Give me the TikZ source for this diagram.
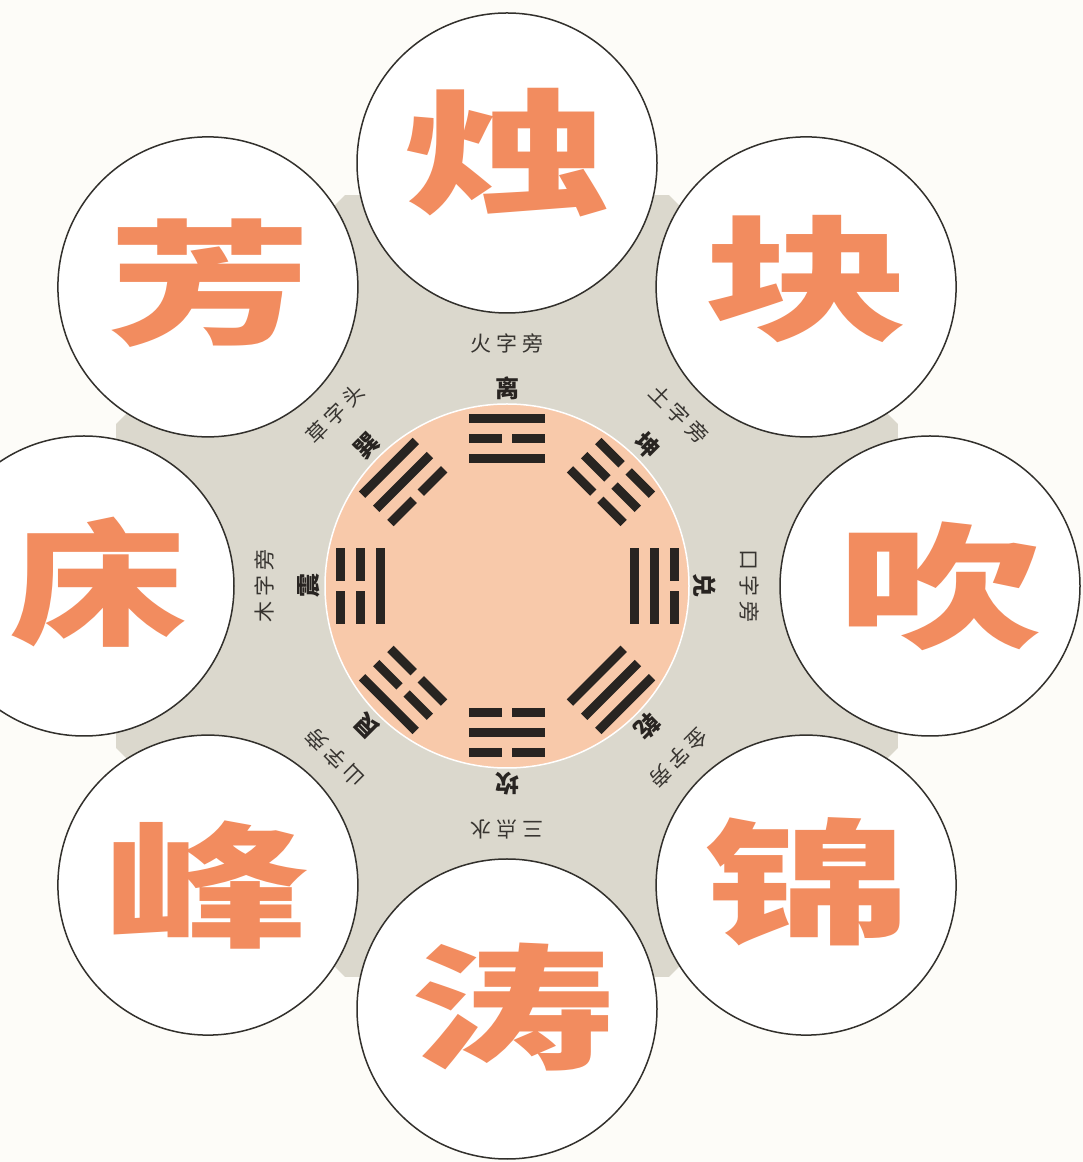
\documentclass[tikz,border=0pt]{standalone}
\usepackage{fontspec}
\newfontfamily\cjk{Noto Sans CJK SC}
\usetikzlibrary{calc}
\definecolor{bgc}{RGB}{253,252,248}
\definecolor{greyc}{RGB}{219,216,205}
\definecolor{peach}{RGB}{248,201,170}
\definecolor{orangec}{RGB}{242,140,95}
\definecolor{inkc}{RGB}{40,36,33}
\definecolor{edgec}{RGB}{50,48,44}
\definecolor{labc}{RGB}{55,52,48}
\tikzset{
  bigcircle/.style={circle, draw=edgec, line width=1.5pt, fill=white, minimum size=300pt, inner sep=0pt},
  glyph/.style={inner sep=0pt, text=orangec, font=\cjk\bfseries\fontsize{205}{205}\selectfont},
  trilabel/.style={inner sep=0pt, text=inkc, font=\cjk\bfseries\fontsize{24}{24}\selectfont},
  radlabel/.style={inner sep=0pt, text=labc, font=\cjk\fontsize{21}{21}\selectfont},
  corec/.style={circle, fill=peach, draw=white, line width=1.5pt, minimum size=364pt, inner sep=0pt},
  bar/.style={fill=inkc}
}
\begin{document}
\begin{tikzpicture}[x=1pt,y=1pt]
\useasboundingbox (0,0) rectangle (1083,1162);
\clip (0,0) rectangle (1083,1162);
\fill[bgc] (0,0) rectangle (1083,1162);
\coordinate (C) at (507,576);
% grey octagon
\fill[greyc] ($(C)+(22.5:423.2)$) \foreach \a in {67.5,112.5,...,337.5}{ -- ($(C)+(\a:423.2)$)} -- cycle;
% core circle
\node[corec] (core) at (C) {};
% outer circles with characters
\foreach \a/\ch/\n/\dx/\dy/\sx in {90/烛/cN/0/10/1, 45/块/cNE/1/8/1, 0/吹/cE/10/0/1, -45/锦/cSE/1/3/1, -90/涛/cS/5/2/1, -135/峰/cSW/-1/0/1, 180/床/cW/15/4/0.86, 135/芳/cNW/2/4/1}{
  \node[bigcircle] (\n) at ($(C)+(\a:423)$) {};
  \node[glyph] (g\n) at ($(\n)+(\dx,\dy)$) {\scalebox{\sx}[0.66]{\ch}};
}
% trigrams and labels
\foreach \a/\nm/\lab/\b/\m/\t/\id in {
  90/离/火\kern5pt字\kern5pt旁/1/0/1/N,
  45/坤/土\kern5pt字\kern5pt旁/0/0/0/NE,
  0/兑/口\kern5pt字\kern5pt旁/1/1/0/E,
  -45/乾/金\kern5pt字\kern5pt旁/1/1/1/SE,
  -90/坎/三\kern5pt点\kern5pt水/0/1/0/S,
  -135/艮/山\kern5pt字\kern5pt旁/0/0/1/SW,
  180/震/木\kern5pt字\kern5pt旁/1/0/0/W,
  135/巽/草\kern5pt字\kern5pt头/0/1/1/NW}{
  \begin{scope}[shift={(C)}, rotate=\a-90]
    \foreach \k/\v in {0/\b,1/\m,2/\t}{
      \pgfmathsetmacro{\yy}{127+20*\k}
      \ifnum\v=1
        \fill[bar] (-38,\yy-4.5) rectangle (38,\yy+4.5);
      \else
        \fill[bar] (-38,\yy-4.5) rectangle (-5,\yy+4.5);
        \fill[bar] (5,\yy-4.5) rectangle (38,\yy+4.5);
      \fi
    }
  \end{scope}
  \node[trilabel, rotate=\a-90] (t\id) at ($(C)+(\a:198)$) {\nm};
  \node[radlabel, rotate=\a-90] (r\id) at ($(C)+(\a:243)$) {\lab};
}
\end{tikzpicture}
\end{document}
